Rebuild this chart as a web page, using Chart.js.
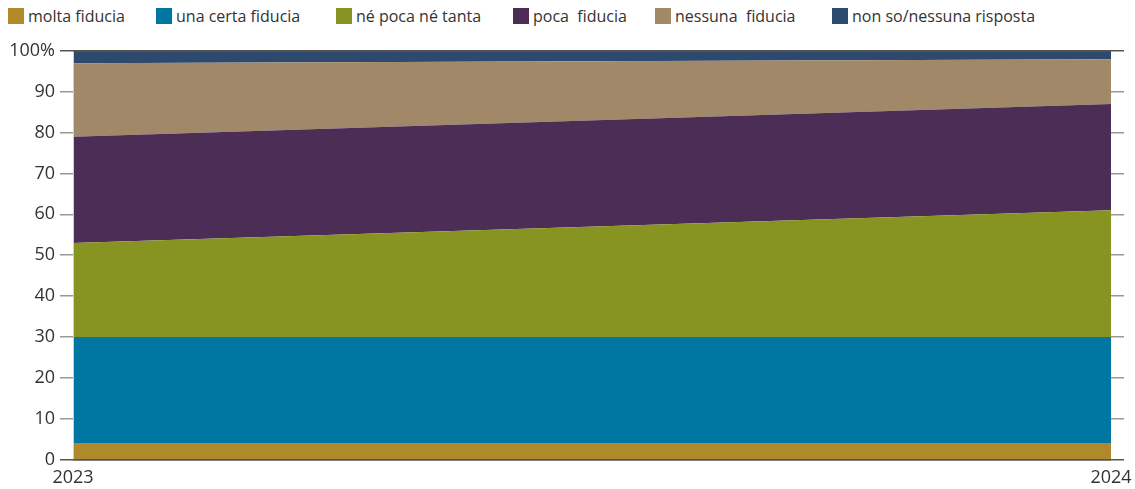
<!DOCTYPE html>
<html><head><meta charset="utf-8">
<script src="https://cdn.jsdelivr.net/npm/chart.js@4/dist/chart.umd.min.js"></script>
<style>
html,body{margin:0;padding:0;background:#fff;}
#wrap{position:relative;width:1135px;height:489px;}
#legend{position:absolute;top:5px;left:8px;height:22px;font-family:"Open Sans",sans-serif;font-size:16px;color:#333;}
.item{position:absolute;top:0;display:flex;align-items:center;white-space:pre;}
.box{width:16px;height:16px;margin-right:4px;}
canvas{position:absolute;top:0;left:0;}
</style></head><body>
<div id="wrap"><div id="legend"></div><canvas id="c" width="1135" height="489"></canvas></div>
<script>
const years = ['2023', '2024'];
const seriesNames = ['molta fiducia', 'una certa fiducia', 'né poca né tanta', 'poca  fiducia', 'nessuna  fiducia', 'non so/nessuna risposta'];
const moltaFiducia = [4, 4];
const unaCertaFiducia = [26, 26];
const nePocaNeTanta = [23, 31];
const pocaFiducia = [26, 26];
const nessunaFiducia = [18, 11];
const nonSo = [3, 2];
const yTicks = [0,10,20,30,40,50,60,70,80,90,100];
const colors = ['#B0892A', '#0077A3', '#879421', '#4B2D55', '#A08868', '#2D4A6E'];
const legendX = [0, 148, 328, 505, 647, 824];

const values = [moltaFiducia, unaCertaFiducia, nePocaNeTanta, pocaFiducia, nessunaFiducia, nonSo];
const leg = document.getElementById('legend');
seriesNames.forEach((n,i)=>{
  const d=document.createElement('div');d.className='item';d.style.left=legendX[i]+'px';
  const b=document.createElement('div');b.className='box';b.style.background=colors[i];
  const t=document.createElement('span');t.textContent=n;
  d.appendChild(b);d.appendChild(t);leg.appendChild(d);
});

const datasets = values.map((v,i)=>({
  label: seriesNames[i], data: v, backgroundColor: colors[i], borderColor: colors[i],
  borderWidth: 0, pointRadius: 0, fill: i===0 ? 'origin' : '-1', tension: 0
}));

const leftLine = {
  id: 'leftLine',
  afterDatasetsDraw(chart) {
    const {ctx, chartArea: a} = chart;
    ctx.save();
    ctx.strokeStyle = '#cfcfcf'; ctx.lineWidth = 1;
    ctx.beginPath(); ctx.moveTo(a.left + 0.5, a.top); ctx.lineTo(a.left + 0.5, a.bottom); ctx.stroke();
    ctx.restore();
  }
};

const font = {family: '"Open Sans", sans-serif', size: 18};
const isEdge = ctx => ctx.tick && (ctx.tick.value===0 || ctx.tick.value===100);
const yCommon = {
  stacked: true, min: 0, max: 100,
  afterBuildTicks: s => { s.ticks = yTicks.map(v=>({value:v})); },
  border: { display: false },
  grid: {
    drawOnChartArea: true, z: 1, tickLength: 13,
    color: ctx => isEdge(ctx) ? '#555' : 'rgba(0,0,0,0)',
    tickColor: ctx => isEdge(ctx) ? '#555' : '#999',
    lineWidth: 1.5
  }
};
new Chart(document.getElementById('c'), {
  type: 'line',
  data: { labels: years, datasets },
  options: {
    responsive: false, animation: false,
    layout: { padding: { top: 51, left: 0, right: 0, bottom: 0 } },
    plugins: { legend: { display: false }, tooltip: { enabled: false } },
    scales: {
      x: { offset: false, grid: { display: false }, border: {display:false},
           ticks: { font, color: '#333', padding: 0, maxRotation: 0 } },
      y: Object.assign({}, yCommon, {
        position: 'left',
        ticks: { font, color: '#333', padding: 5, callback: v => v===100 ? '100%' : v },
        afterFit: s => { s.width = 73; }
      }),
      y2: Object.assign({}, yCommon, {
        position: 'right',
        ticks: { display: false },
        afterFit: s => { s.width = 24; }
      })
    }
  },
  plugins: [leftLine]
});
</script></body></html>
